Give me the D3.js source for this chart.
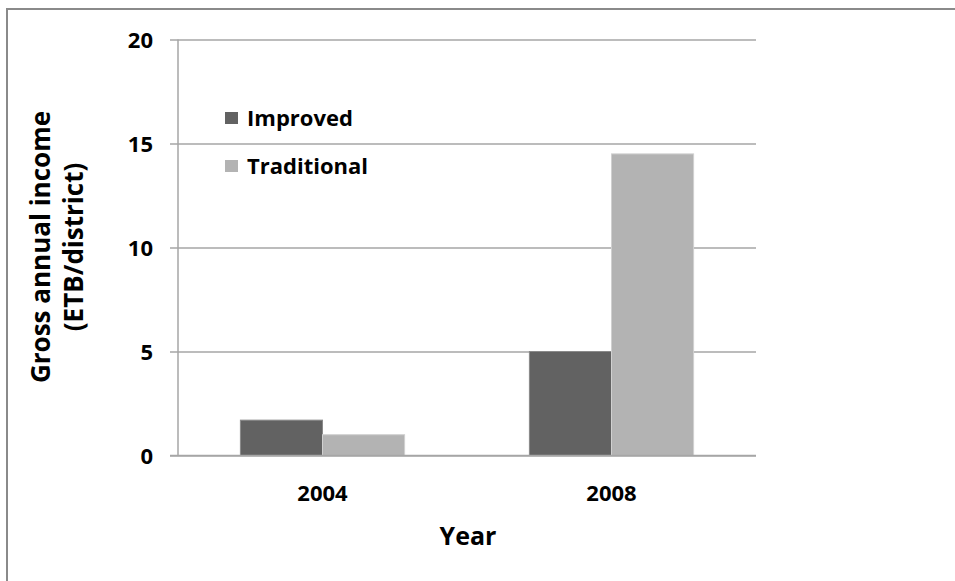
<!DOCTYPE html>
<html><head><meta charset="utf-8">
<script src="https://cdn.jsdelivr.net/npm/d3@7"></script>
<style>body{margin:0;background:#fff}svg{display:block}text{font-family:"Open Sans","Noto Sans",sans-serif;font-weight:bold;fill:#000}</style>
</head><body><svg id="c" width="955" height="581"></svg>
<script>
const categories = ["2004", "2008"];
const seriesNames = ["Improved", "Traditional"];
const improved = [1.7, 5.0];
const traditional = [1.0, 14.5];
const yTicks = [0, 5, 10, 15, 20];
const colors = ["#626262", "#b3b3b3"];

const svg = d3.select("#c");
svg.append("rect").attr("x",7).attr("y",9).attr("width",1000).attr("height",1000)
  .attr("fill","#fff").attr("stroke","#8a8a8a").attr("stroke-width",2);

const L=178, R=756, T=39.5, B=455.5;
const y = d3.scaleLinear().domain([0,20]).range([B,T]);
const x0 = d3.scaleBand().domain(categories).range([L,R]).padding(0);
const x1 = d3.scaleBand().domain(seriesNames).range([0,x0.bandwidth()]).paddingInner(0).paddingOuter(0.76);

const yAxis = d3.axisLeft(y).tickValues(yTicks).tickSize(-(R-L)).tickPadding(25).tickFormat(d3.format("d"));
const ga = svg.append("g").attr("transform",`translate(${L},0)`).call(yAxis);
ga.select(".domain").remove();
ga.selectAll(".tick line").attr("stroke","#a6a6a6").attr("stroke-width",1.5).attr("x1",-8);
ga.selectAll(".tick text").style("font-size","22px").attr("dy","0.35em");
svg.append("line").attr("x1",L).attr("x2",L).attr("y1",T).attr("y2",B).attr("stroke","#a6a6a6").attr("stroke-width",1.5);

const data = categories.map((c,i)=>({cat:c, vals:[improved[i], traditional[i]]}));
const groups = svg.append("g").selectAll("g").data(data).join("g")
  .attr("transform",d=>`translate(${x0(d.cat)},0)`);
groups.selectAll("rect").data(d=>d.vals.map((v,j)=>({s:seriesNames[j],v,j}))).join("rect")
  .attr("x",d=>x1(d.s)).attr("width",x1.bandwidth())
  .attr("y",d=>y(d.v)).attr("height",d=>y(0)-y(d.v))
  .attr("fill",d=>colors[d.j]).attr("stroke",d=>d.j===0?"#8a8a8a":"#d0d0d0").attr("stroke-width",1);

svg.append("line").attr("x1",L-8).attr("x2",R).attr("y1",B).attr("y2",B).attr("stroke","#a6a6a6").attr("stroke-width",1.5);

const xAxis = d3.axisBottom(x0).tickSize(0).tickPadding(30);
const gx = svg.append("g").attr("transform",`translate(0,${B})`).call(xAxis);
gx.select(".domain").remove();
gx.selectAll(".tick text").style("font-size","22px");

svg.append("text").attr("x",468).attr("y",545).attr("text-anchor","middle").style("font-size","25px").text("Year");

const yt = svg.append("text").attr("transform","translate(0,247) rotate(-90)").attr("text-anchor","middle").style("font-size","26px");
yt.append("tspan").attr("x",0).attr("y",50).text("Gross annual income");
yt.append("tspan").attr("x",0).attr("y",83).text("(ETB/district)");

const lg = svg.append("g").selectAll("g").data(seriesNames).join("g")
  .attr("transform",(d,i)=>`translate(225,${112+i*48})`);
lg.append("rect").attr("width",13).attr("height",12).attr("fill",(d,i)=>colors[i]);
lg.append("text").attr("x",22).attr("y",6).attr("dy","0.35em").style("font-size","22px").text(d=>d);
</script></body></html>
